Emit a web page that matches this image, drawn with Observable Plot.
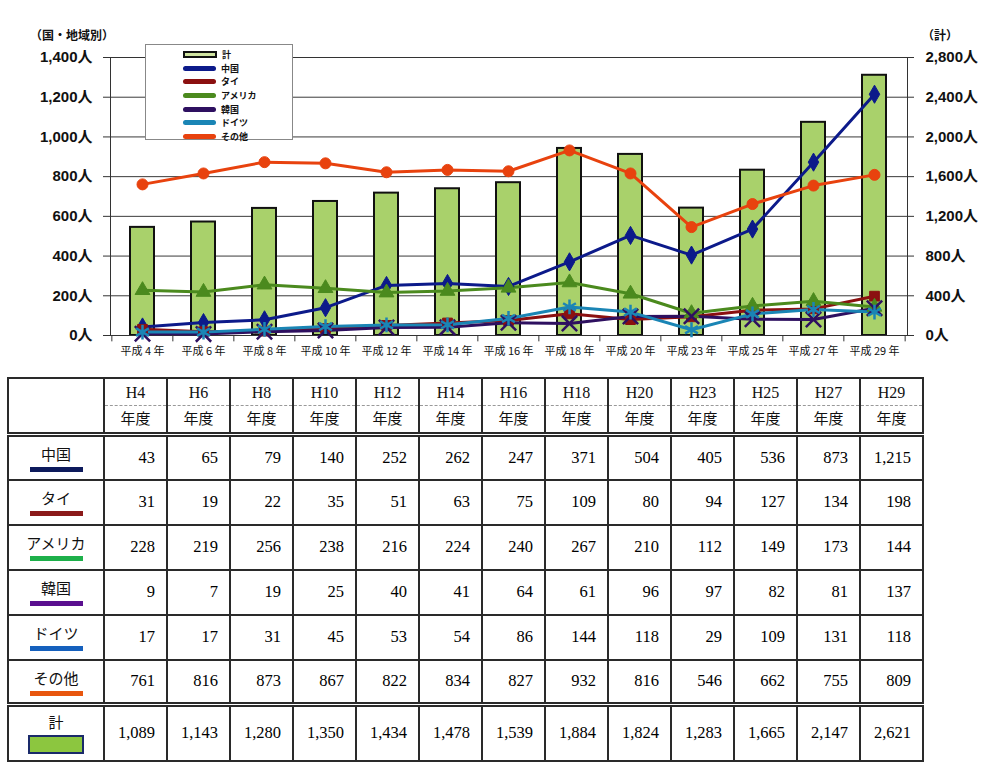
<!DOCTYPE html>
<html><head><meta charset="utf-8">
<script src="https://cdn.jsdelivr.net/npm/d3@7"></script>
<script src="https://cdn.jsdelivr.net/npm/@observablehq/plot@0.6"></script>
<style>
body{margin:0;background:#fff;width:1000px;height:768px;position:relative;overflow:hidden;font-family:"Liberation Sans","Noto Sans CJK JP",sans-serif;}
#chart{position:absolute;left:0;top:0;}
.atitle{position:absolute;font-size:12px;font-weight:bold;color:#111;font-family:"Noto Sans CJK JP",sans-serif;}
#legend{position:absolute;left:145px;top:44px;width:148px;height:96px;background:#fff;border:1px solid #888;box-sizing:border-box;padding-top:3px;}
.lg{height:13.6px;display:flex;align-items:center;font-size:9px;font-weight:bold;font-family:"Noto Sans CJK JP",sans-serif;color:#111;}
.lg .sw{margin-left:37px;width:33px;height:5px;border-radius:3px;margin-right:5px;}
#tbl{position:absolute;left:7px;top:377px;border-collapse:collapse;table-layout:fixed;}
#tbl td{border:2px solid #2a2a2a;padding:0;}
#tbl td.num{text-align:right;padding-right:11px;font-family:"Liberation Serif",serif;font-size:16.5px;color:#000;}
#tbl td.hd{text-align:center;color:#111;}
.hd .h1{font-family:"Liberation Serif",serif;font-size:16px;height:26px;line-height:28px;border-bottom:1px dashed #999;}
.hd .h2{font-family:"Noto Sans CJK JP",sans-serif;font-size:15px;height:26px;line-height:24px;}
td.lab{text-align:center;font-family:"Noto Sans CJK JP",sans-serif;font-size:15px;color:#111;vertical-align:top;}
td.lab .t{margin-top:8px;line-height:18px;}
td.lab .bar{width:53px;height:5px;margin:4px auto 0 auto;}
td.lab .box{width:52px;height:15px;margin:4px auto 0 auto;border:2px solid #1a2a6a;}
</style></head><body>
<div id="chart"></div>
<div class="atitle" style="left:30px;top:26px">（国・地域別）</div>
<div class="atitle" style="left:922px;top:26px">（計）</div>
<div id="legend"></div>
<table id="tbl"></table>
<script>
// ---- data ----
const years = ["平成 4 年","平成 6 年","平成 8 年","平成 10 年","平成 12 年","平成 14 年","平成 16 年","平成 18 年","平成 20 年","平成 23 年","平成 25 年","平成 27 年","平成 29 年"];
const codes = ["H4","H6","H8","H10","H12","H14","H16","H18","H20","H23","H25","H27","H29"];
const series = ["中国","タイ","アメリカ","韓国","ドイツ","その他"];
const china   = [43,65,79,140,252,262,247,371,504,405,536,873,1215];
const thai    = [31,19,22,35,51,63,75,109,80,94,127,134,198];
const usa     = [228,219,256,238,216,224,240,267,210,112,149,173,144];
const korea   = [9,7,19,25,40,41,64,61,96,97,82,81,137];
const germany = [17,17,31,45,53,54,86,144,118,29,109,131,118];
const other   = [761,816,873,867,822,834,827,932,816,546,662,755,809];
const total   = [1089,1143,1280,1350,1434,1478,1539,1884,1824,1283,1665,2147,2621];
const totalLabel = "計";
const leftTicks = [0,200,400,600,800,1000,1200,1400];

// ---- styles ----
const lineColors = ["#0c1a8a","#8b1010","#4b8a1e","#2e1060","#1a85b5","#e8420e"];
const tableColors = ["#0d1a5c","#8b1a1a","#1db04a","#5a0f8f","#1560bd","#e8560e"];
const symbols = ["diamond","square","triangle","times","asterisk","circle"];
const barFill = "#a9d16b";

const values = [china, thai, usa, korea, germany, other];
const rows = [];
series.forEach((s,i)=> years.forEach((y,j)=> rows.push({year:y, name:s, value:values[i][j]})));
const bars = years.map((y,j)=>({year:y, total:total[j]}));
const fmt = d3.format(",");

const W = 1000, ML = 110, MR = 93;
const step = (W - ML - MR) / years.length;
const strokeSyms = new Set(["times","asterisk"]);

const chart = Plot.plot({
  width: W, height: 368, marginTop: 57, marginBottom: 33, marginLeft: ML, marginRight: MR,
  x: {domain: years, paddingInner: 0.6, paddingOuter: 0.3},
  y: {domain: [0, 1400]},
  color: {domain: series, range: lineColors},
  symbol: {domain: series, range: symbols},
  style: {fontFamily: '"Liberation Sans","Noto Sans CJK JP",sans-serif', color: "#111", background: "white", overflow: "visible"},
  marks: [
    Plot.gridY(leftTicks, {stroke: "#3a3a3a", strokeOpacity: 1}),
    Plot.barY(bars, {x: "year", y: d => d.total / 2, fill: barFill, stroke: "#111", strokeWidth: 2}),
    Plot.frame({stroke: "#333"}),
    Plot.lineY(rows, {x: "year", y: "value", z: "name", stroke: "name", strokeWidth: 3}),
    Plot.dot(rows.filter(d => !strokeSyms.has(symbols[series.indexOf(d.name)])), {x: "year", y: "value", symbol: "name", fill: "name", stroke: "name", r: 5.5, strokeWidth: 1}),
    Plot.dot(rows.filter(d => strokeSyms.has(symbols[series.indexOf(d.name)])), {x: "year", y: "value", symbol: "name", stroke: "name", r: 7, strokeWidth: 2.5}),
    Plot.axisY({ticks: leftTicks, tickFormat: d => fmt(d) + "人", tickSize: 7, tickPadding: 11, fontSize: 15, fontWeight: "bold", label: null, stroke: "#333"}),
    Plot.axisY({anchor: "right", ticks: leftTicks, tickFormat: d => fmt(d * 2) + "人", tickSize: 6, tickPadding: 12, fontSize: 15, fontWeight: "bold", label: null, stroke: "#333"}),
    Plot.axisX({tickSize: 0, tickPadding: 12, fontSize: 11, label: null, fontFamily: '"Noto Sans CJK JP",sans-serif'}),
    Plot.ruleX(years, {x: d => d, dx: -step / 2, y1: 0, y2: -32, stroke: "#333"}),
    Plot.ruleX([years[years.length - 1]], {x: d => d, dx: step / 2, y1: 0, y2: -32, stroke: "#333"})
  ]
});
document.getElementById("chart").appendChild(chart);

// ---- legend ----
const lg = document.getElementById("legend");
const items = [{name: totalLabel, bar: true}].concat(series.map((s,i)=>({name: s, color: lineColors[i]})));
items.forEach(it => {
  const row = document.createElement("div"); row.className = "lg";
  const sw = document.createElement("span"); sw.className = "sw";
  if (it.bar) { sw.style.background = "#cfe3a0"; sw.style.border = "2px solid #111"; sw.style.borderRadius = "0"; sw.style.height = "3px"; sw.style.width = "30px"; }
  else sw.style.background = it.color;
  row.appendChild(sw);
  const t = document.createElement("span"); t.textContent = it.name; row.appendChild(t);
  lg.appendChild(row);
});

// ---- table ----
const tbl = document.getElementById("tbl");
const cg = document.createElement("colgroup");
[96].concat(codes.map(()=>63)).forEach(w => { const c = document.createElement("col"); c.style.width = w + "px"; cg.appendChild(c); });
tbl.appendChild(cg);
let tr = document.createElement("tr"); tr.style.height = "54px";
tr.appendChild(document.createElement("td"));
codes.forEach(c => { const td = document.createElement("td"); td.className = "hd";
  td.innerHTML = `<div class="h1">${c}</div><div class="h2">年度</div>`; tr.appendChild(td); });
tbl.appendChild(tr);
tr.querySelectorAll("td").forEach(td => td.style.borderBottom = "5px double #2a2a2a");
series.forEach((s,i) => {
  const r = document.createElement("tr"); r.style.height = "45px";
  const l = document.createElement("td"); l.className = "lab";
  l.innerHTML = `<div class="t">${s}</div><div class="bar" style="background:${tableColors[i]}"></div>`;
  r.appendChild(l);
  values[i].forEach(v => { const td = document.createElement("td"); td.className = "num"; td.textContent = fmt(v); r.appendChild(td); });
  if (i === series.length - 1) r.querySelectorAll("td").forEach(td => td.style.borderBottom = "5px double #2a2a2a");
  tbl.appendChild(r);
});
const rt = document.createElement("tr"); rt.style.height = "56px";
const lt = document.createElement("td"); lt.className = "lab";
lt.innerHTML = `<div class="t" style="margin-top:6px">${totalLabel}</div><div class="box" style="background:#8cc63f"></div>`;
rt.appendChild(lt);
total.forEach(v => { const td = document.createElement("td"); td.className = "num"; td.textContent = fmt(v); rt.appendChild(td); });
tbl.appendChild(rt);
</script>
</body></html>
